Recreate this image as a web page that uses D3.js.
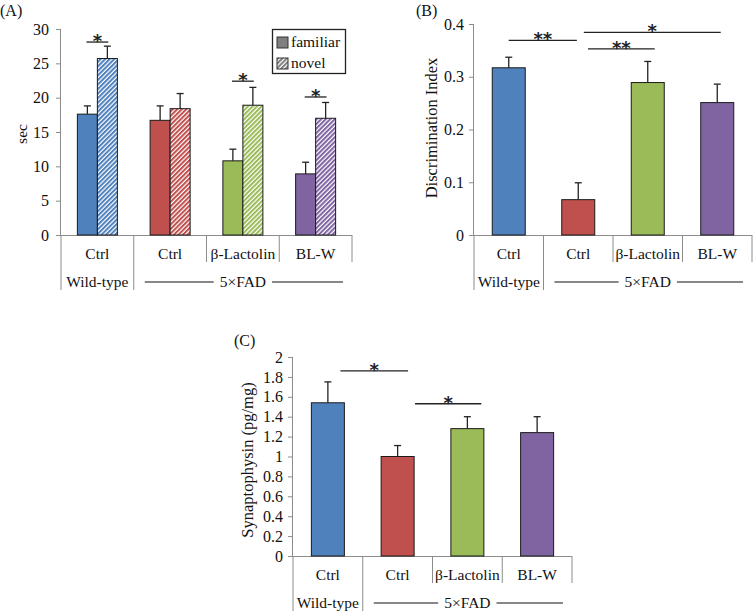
<!DOCTYPE html>
<html><head><meta charset="utf-8">
<script src="https://cdn.jsdelivr.net/npm/d3@7"></script>
<style>body{margin:0;background:#fff}svg{display:block}</style>
</head><body>
<svg id="c" width="753" height="611"></svg>
<script>
// ---------- data ----------
const categories = ["Ctrl", "Ctrl", "β-Lactolin", "BL-W"];
const groupLabels = ["Wild-type", "5×FAD"];
const colors = ["#4F81BD", "#C0504D", "#9BBB59", "#8064A2"];

// Panel A (sec)
const aFamiliar = [17.6, 16.7, 10.8, 8.9];
const aFamiliarErr = [1.2, 2.1, 1.7, 1.7];
const aNovel = [25.7, 18.4, 18.9, 17.0];
const aNovelErr = [1.8, 2.2, 2.6, 2.3];
const aTicks = [0, 5, 10, 15, 20, 25, 30];
const aSig = [{from: -0.15, to: 0.15, y: 28.1, label: "*"}, {from: 1.85, to: 2.15, y: 22.4, label: "*"}, {from: 2.85, to: 3.15, y: 20.1, label: "*"}];

// Panel B (Discrimination Index)
const bValues = [0.317, 0.067, 0.289, 0.251];
const bErr = [0.020, 0.032, 0.040, 0.035];
const bTicks = [0, 0.1, 0.2, 0.3, 0.4];
const bSig = [{from: 0.0, to: 0.98, y: 0.369, label: "**"}, {from: 1.08, to: 3.05, y: 0.384, label: "*"}, {from: 1.14, to: 2.1, y: 0.353, label: "**"}];

// Panel C (Synaptophysin pg/mg)
const cValues = [1.54, 1.00, 1.28, 1.24];
const cErr = [0.21, 0.11, 0.12, 0.16];
const cTicks = [0, 0.2, 0.4, 0.6, 0.8, 1, 1.2, 1.4, 1.6, 1.8, 2];
const cSig = [{from: 0.18, to: 1.15, y: 1.86, label: "*"}, {from: 1.25, to: 2.2, y: 1.53, label: "*"}];

// ---------- drawing ----------
const svg = d3.select("#c");
const SERIF = "'Liberation Serif','Times New Roman',serif";
const AXIS = "#8c8c8c";
const FS = 15.5;

const defs = svg.append("defs");
function hatch(id, color) {
  const p = defs.append("pattern").attr("id", id).attr("patternUnits", "userSpaceOnUse")
    .attr("width", 3.2).attr("height", 3.2).attr("patternTransform", "rotate(45)");
  p.append("rect").attr("width", 3.2).attr("height", 3.2).attr("fill", "#fff");
  p.append("rect").attr("width", 2.0).attr("height", 3.2).attr("fill", color);
}
colors.forEach((c, i) => hatch("h" + i, c));
hatch("hg", "#7f7f7f");

function panel(cfg) {
  const g = svg.append("g");
  const x = d3.scaleBand().domain(d3.range(categories.length)).range([cfg.x0, cfg.x1]);
  const y = d3.scaleLinear().domain(cfg.domain).range([cfg.yb, cfg.yt]);
  const step = x.step();

  // y axis
  const ya = g.append("g").attr("transform", `translate(${cfg.x0},0)`)
    .call(d3.axisLeft(y).tickValues(cfg.ticks).tickSize(5).tickPadding(cfg.pad).tickFormat(d => String(+d.toFixed(2))));
  ya.select(".domain").attr("stroke", AXIS).attr("d", `M-0.5,${cfg.yb}V${cfg.yt}`);
  ya.selectAll(".tick line").attr("stroke", AXIS);
  ya.selectAll("text").attr("font-family", SERIF).attr("font-size", 16).attr("fill", "#111");

  // x axis baseline
  g.append("line").attr("x1", cfg.x0 - 5).attr("x2", cfg.x1).attr("y1", cfg.yb + 0.5).attr("y2", cfg.yb + 0.5)
    .attr("stroke", AXIS);
  // dividers
  d3.range(categories.length + 1).forEach(i => {
    const xx = cfg.x0 + i * step;
    const long = i <= 1;
    g.append("line").attr("x1", xx).attr("x2", xx).attr("y1", cfg.yb).attr("y2", cfg.yb + (long ? 55 : 27))
      .attr("stroke", AXIS);
  });
  // category labels
  g.selectAll(".cat").data(categories).join("text")
    .attr("x", (d, i) => x(i) + x.bandwidth() / 2).attr("y", cfg.yb + 24)
    .attr("text-anchor", "middle").attr("font-family", SERIF).attr("font-size", FS).attr("fill", "#111").text(d => d);
  // group labels
  g.append("text").attr("x", x(0) + step / 2).attr("y", cfg.yb + 52).attr("text-anchor", "middle")
    .attr("font-family", SERIF).attr("font-size", FS).attr("fill", "#111").text(groupLabels[0]);
  const cx = (x(1) + cfg.x1) / 2;
  const t = g.append("text").attr("x", cx).attr("y", cfg.yb + 52).attr("text-anchor", "middle")
    .attr("font-family", SERIF).attr("font-size", FS).attr("fill", "#111").text(groupLabels[1]);
  const tw = t.node().getComputedTextLength();
  g.append("line").attr("x1", x(1) + 11).attr("x2", cx - tw / 2 - 6).attr("y1", cfg.yb + 47).attr("y2", cfg.yb + 47).attr("stroke", "#111");
  g.append("line").attr("x1", cx + tw / 2 + 6).attr("x2", cfg.x1 - 9).attr("y1", cfg.yb + 47).attr("y2", cfg.yb + 47).attr("stroke", "#111");

  // bars
  cfg.series.forEach(s => {
    s.values.forEach((v, i) => {
      const bx = x(i) + x.bandwidth() / 2 + s.offset - s.width / 2;
      const cxb = bx + s.width / 2;
      g.append("rect").attr("x", bx).attr("y", y(v)).attr("width", s.width).attr("height", y(0) - y(v))
        .attr("fill", s.fill(i)).attr("stroke", "#1a1a1a").attr("stroke-width", 1);
      const top = y(v + s.err[i]);
      g.append("line").attr("x1", cxb).attr("x2", cxb).attr("y1", y(v)).attr("y2", top).attr("stroke", "#222").attr("stroke-width", 1.3);
      g.append("line").attr("x1", cxb - 3.5).attr("x2", cxb + 3.5).attr("y1", top).attr("y2", top).attr("stroke", "#222").attr("stroke-width", 1.3);
    });
  });

  // significance
  const pos = p => x(0) + x.bandwidth() / 2 + p * step;
  cfg.sig.forEach(s => {
    const x1 = pos(s.from), x2 = pos(s.to), yy = y(s.y);
    g.append("line").attr("x1", x1).attr("x2", x2).attr("y1", yy).attr("y2", yy).attr("stroke", "#222").attr("stroke-width", 1.3);
    g.append("text").attr("x", (x1 + x2) / 2).attr("y", yy + 5).attr("text-anchor", "middle")
      .attr("font-family", "'DejaVu Sans',sans-serif").attr("font-weight", "bold").attr("font-size", 18).attr("fill", "#222").text(s.label);
  });

  // y label
  g.append("text").attr("transform", `translate(${cfg.ylx},${cfg.yly}) rotate(-90)`).attr("text-anchor", "middle")
    .attr("font-family", SERIF).attr("font-size", cfg.ylfs || FS).attr("fill", "#111").text(cfg.ylabel);
  // panel letter
  g.append("text").attr("x", cfg.lx).attr("y", cfg.ly).attr("font-family", SERIF).attr("font-size", 16).attr("fill", "#111").text(cfg.letter);
  return {g, x, y};
}

// Panel A
panel({
  x0: 61, x1: 352, yb: 235, yt: 29, domain: [0, 30], ticks: aTicks, pad: 7,
  series: [
    {values: aFamiliar, err: aFamiliarErr, offset: -10, width: 20, fill: i => colors[i]},
    {values: aNovel, err: aNovelErr, offset: 10, width: 20, fill: i => `url(#h${i})`}
  ],
  sig: aSig, ylabel: "sec", ylx: 27, yly: 134, letter: "(A)", lx: 0, ly: 16
});
// legend A
const lg = svg.append("g");
lg.append("rect").attr("x", 272.5).attr("y", 29.5).attr("width", 73).attr("height", 44).attr("fill", "#fff").attr("stroke", "#222").attr("stroke-width", 1.3);
const legendItems = [{label: "familiar", fill: "#7f7f7f"}, {label: "novel", fill: "url(#hg)"}];
legendItems.forEach((d, i) => {
  lg.append("rect").attr("x", 277).attr("y", 37 + i * 21).attr("width", 11).attr("height", 11).attr("fill", d.fill).attr("stroke", "#333");
  lg.append("text").attr("x", 291).attr("y", 47 + i * 20.5).attr("font-family", SERIF).attr("font-size", 15.5).attr("fill", "#111").text(d.label);
});

// Panel B
panel({
  x0: 474, x1: 752, yb: 235, yt: 24, domain: [0, 0.4], ticks: bTicks, pad: 5,
  series: [{values: bValues, err: bErr, offset: 0, width: 33, fill: i => colors[i]}],
  sig: bSig, ylabel: "Discrimination Index", ylx: 437, yly: 128, ylfs: 16.5, letter: "(B)", lx: 416, ly: 16
});

// Panel C
panel({
  x0: 293, x1: 572, yb: 556, yt: 357, domain: [0, 2], ticks: cTicks, pad: 5,
  series: [{values: cValues, err: cErr, offset: 0, width: 33, fill: i => colors[i]}],
  sig: cSig, ylabel: "Synaptophysin (pg/mg)", ylx: 253, yly: 460, ylfs: 16.5, letter: "(C)", lx: 234, ly: 346
});
</script>
</body></html>
